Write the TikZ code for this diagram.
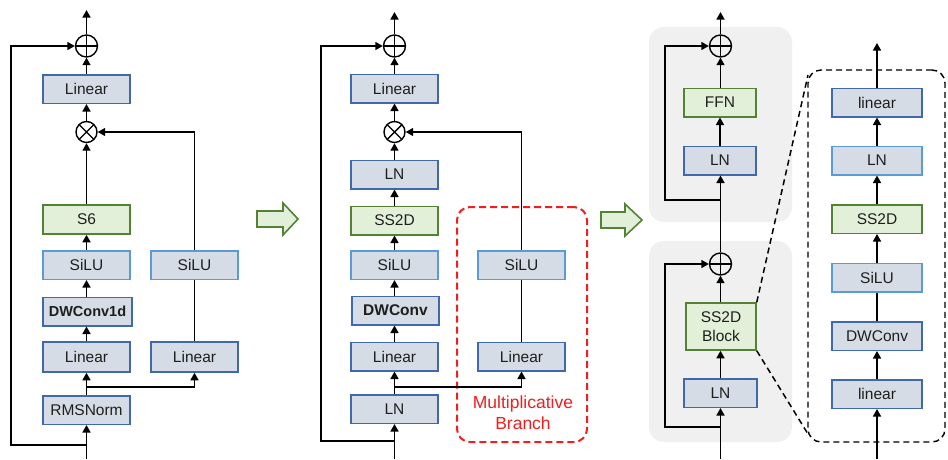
\documentclass[tikz,border=0pt]{standalone}
\usepackage{fontspec}
\setmainfont{Liberation Sans}
\usetikzlibrary{arrows.meta}
\definecolor{boxfill}{HTML}{D6DCE5}
\definecolor{boxdark}{HTML}{4168A8}
\definecolor{boxlight}{HTML}{5B9BD5}
\definecolor{gfill}{HTML}{E2F0D9}
\definecolor{gdraw}{HTML}{548235}
\definecolor{panelgray}{HTML}{F0F0F0}
\definecolor{txt}{HTML}{1E1E1E}
\definecolor{redb}{HTML}{F01E1E}
\tikzset{
  base/.style={rectangle, inner sep=0pt, line width=1.5pt, minimum height=28.5pt, minimum width=87pt, text=txt, font=\fontsize{15.5}{17}\selectfont},
  bbox/.style={base, fill=boxfill, draw=boxdark},
  lbox/.style={base, fill=boxfill, draw=boxlight},
  gbox/.style={base, fill=gfill, draw=gdraw},
  conn/.style={line width=1.5pt, draw=black},
  arr/.style={conn, -{Triangle[length=7.5pt,width=8pt]}},
  opplus/.style={circle, draw, line width=1.4pt, minimum size=22pt, inner sep=0pt,
    path picture={\draw[line width=1.4pt] (path picture bounding box.north) -- (path picture bounding box.south) (path picture bounding box.west) -- (path picture bounding box.east);}},
  optimes/.style={circle, draw, line width=1.4pt, minimum size=21pt, inner sep=0pt,
    path picture={\draw[line width=1.4pt] (path picture bounding box.north west) -- (path picture bounding box.south east) (path picture bounding box.south west) -- (path picture bounding box.north east);}},
  hollow/.style={fill=gfill, draw=gdraw, line width=1.6pt, line join=miter},
}
\begin{document}
\begin{tikzpicture}[x=1pt,y=-1pt]
\useasboundingbox (0,0) rectangle (948,459);

% ---------------- Panel 1 ----------------
\node[opplus] (plus1) at (86.5,46) {};
\node[bbox] (top1) at (86.5,89) {Linear};
\node[optimes] (times1) at (86.5,132) {};
\node[gbox, minimum height=29pt] (s6) at (86.5,219.5) {S6};
\node[lbox] (silu1) at (86.5,265) {SiLU};
\node[bbox, minimum width=89pt] (dw1) at (87.5,311.5) {\fontsize{14.5}{17}\selectfont\bfseries DWConv1d};
\node[bbox, minimum height=30pt] (lin1) at (86.5,357) {Linear};
\node[bbox] (rms) at (86.5,410) {RMSNorm};
\node[lbox] (rsilu1) at (194.5,265) {SiLU};
\node[bbox, minimum height=30pt] (rlin1) at (194.5,357) {Linear};
\coordinate (out1) at (86.5,10);
\coordinate (in1) at (86.5,459);
\coordinate (sk1) at (86.5,445);
\coordinate (kk1) at (11,445);
\coordinate (sp1) at (86.5,387);

\draw[arr] (plus1.north) -- (out1);
\draw[arr] (top1.north) -- (plus1.south);
\draw[arr] (times1.north) -- (top1.south);
\draw[arr] (s6.north) -- (times1.south);
\draw[arr] (silu1.north) -- (s6.south);
\draw[arr] (dw1.north -| silu1.south) -- (silu1.south);
\draw[arr] (lin1.north) -- (dw1.south -| lin1.north);
\draw[arr] (rms.north) -- (lin1.south);
\draw[arr] (in1) -- (rms.south);
\draw[arr] (sp1) -| (rlin1.south);
\draw[conn] (rlin1.north) -- (rsilu1.south);
\draw[arr] (rsilu1.north) |- (times1.east);
\draw[arr] (sk1) -- (kk1) |- (plus1.west);

% hollow arrow 1
\draw[hollow] (257,211) -- (283,211) -- (283,203) -- (298,219) -- (283,235) -- (283,227) -- (257,227) -- cycle;

% ---------------- Panel 2 ----------------
\node[draw=redb, dashed, dash pattern=on 7pt off 4pt, line width=2pt, rounded corners=13pt, minimum width=130pt, minimum height=235pt, inner sep=0pt] (mb) at (522,324.5) {};
\node[opplus] (plus2) at (394.5,46) {};
\node[bbox] (top2) at (394.5,88.5) {Linear};
\node[optimes] (times2) at (394.5,132) {};
\node[bbox] (ln2) at (394.5,174.5) {LN};
\node[gbox] (ss2) at (394.5,220.5) {SS2D};
\node[lbox] (silu2) at (394.5,265) {SiLU};
\node[bbox] (dw2) at (395.5,310.5) {\bfseries DWConv};
\node[bbox] (lin2) at (394.5,356.5) {Linear};
\node[bbox] (ln2b) at (394.5,409) {LN};
\node[lbox] (rsilu2) at (521.5,265) {SiLU};
\node[bbox] (rlin2) at (521.5,356.5) {Linear};
\node[text=redb, font=\fontsize{17.5}{21}\selectfont, align=center] (mbt) at (523,412.5) {Multiplicative\\Branch};
\coordinate (out2) at (394.5,12);
\coordinate (in2) at (394.5,459);
\coordinate (sk2) at (394.5,441);
\coordinate (kk2) at (321,441);
\coordinate (sp2) at (394.5,387);

\draw[arr] (plus2.north) -- (out2);
\draw[arr] (top2.north) -- (plus2.south);
\draw[arr] (times2.north) -- (top2.south);
\draw[arr] (ln2.north) -- (times2.south);
\draw[arr] (ss2.north) -- (ln2.south);
\draw[arr] (silu2.north) -- (ss2.south);
\draw[arr] (dw2.north -| silu2.south) -- (silu2.south);
\draw[arr] (lin2.north) -- (dw2.south -| lin2.north);
\draw[arr] (ln2b.north) -- (lin2.south);
\draw[arr] (in2) -- (ln2b.south);
\draw[arr] (sp2) -| (rlin2.south);
\draw[conn] (rlin2.north) -- (rsilu2.south);
\draw[arr] (rsilu2.north) |- (times2.east);
\draw[arr] (sk2) -- (kk2) |- (plus2.west);

% hollow arrow 2
\draw[hollow] (601,212) -- (625,212) -- (625,204) -- (642,220) -- (625,236) -- (625,228) -- (601,228) -- cycle;

% ---------------- Panel 3 ----------------
\node[fill=panelgray, rounded corners=15pt, minimum width=143pt, minimum height=195pt, inner sep=0pt] (pg1) at (720.5,124.5) {};
\node[fill=panelgray, rounded corners=15pt, minimum width=143pt, minimum height=201pt, inner sep=0pt] (pg2) at (720.5,341.5) {};
\node[draw=black, dashed, dash pattern=on 6pt off 4pt, line width=1.4pt, rounded corners=13pt, minimum width=137pt, minimum height=372pt, inner sep=0pt] (det) at (876.5,256) {};

\node[opplus] (plus3a) at (720.5,46) {};
\node[gbox, minimum width=72pt] (ffn) at (720,102.5) {FFN};
\node[bbox, minimum width=72pt] (ln3a) at (720,160.5) {LN};
\node[opplus] (plus3b) at (720.5,264) {};
\node[gbox, minimum width=70pt, minimum height=47pt, align=center, font=\fontsize{15.5}{19}\selectfont] (blk) at (721,326.5) {SS2D\\Block};
\node[bbox, minimum width=73pt] (ln3b) at (720.5,393) {LN};
\coordinate (out3) at (720.5,12);
\coordinate (in3) at (720.5,459);
\coordinate (sk3a) at (720.5,200);
\coordinate (kk3a) at (665,200);
\coordinate (sk3b) at (720.5,427);
\coordinate (kk3b) at (665,427);

\draw[arr] (plus3a.north) -- (out3);
\draw[arr] (ffn.north -| plus3a.south) -- (plus3a.south);
\draw[arr] (ln3a.north) -- (ffn.south);
\draw[arr] (plus3b.north) -- (ln3a.south -| plus3b.north);
\draw[arr] (sk3a) -- (kk3a) |- (plus3a.west);
\draw[arr] (blk.north -| plus3b.south) -- (plus3b.south);
\draw[arr] (ln3b.north) -- (blk.south -| ln3b.north);
\draw[arr] (in3) -- (ln3b.south);
\draw[arr] (sk3b) -- (kk3b) |- (plus3b.west);

% zoom lines
\coordinate (zt) at (808,75);
\coordinate (zb) at (808,434);
\draw[conn, dashed, dash pattern=on 6pt off 4pt] (blk.north east) -- (zt);
\draw[conn, dashed, dash pattern=on 6pt off 4pt] (blk.south east) -- (zb);

% detail column
\node[bbox, minimum width=90pt] (dlin) at (877,102.5) {linear};
\node[lbox, minimum width=90pt] (dln) at (877,160.5) {LN};
\node[gbox, minimum width=90pt] (dss) at (877,219) {SS2D};
\node[lbox, minimum width=90pt] (dsilu) at (877,277.5) {SiLU};
\node[bbox, minimum width=90pt] (ddw) at (877,336) {DWConv};
\node[bbox, minimum width=90pt] (dlin2) at (877,394) {linear};
\coordinate (out4) at (877,43);
\coordinate (in4) at (877,459);

\draw[arr] (dlin.north) -- (out4);
\draw[arr] (dln.north) -- (dlin.south);
\draw[arr] (dss.north) -- (dln.south);
\draw[arr] (dsilu.north) -- (dss.south);
\draw[conn] (ddw.north) -- (dsilu.south);
\draw[arr] (dlin2.north) -- (ddw.south);
\draw[arr] (in4) -- (dlin2.south);
\end{tikzpicture}
\end{document}
